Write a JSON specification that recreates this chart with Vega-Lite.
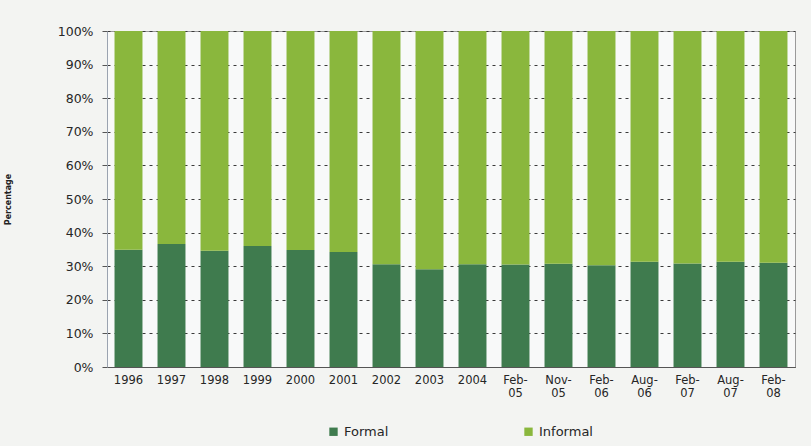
{
  "$schema": "https://vega.github.io/schema/vega-lite/v6.json",
  "autosize": {"type": "none"},
  "width": 688,
  "height": 336,
  "padding": {"left": 107, "top": 31, "right": 16, "bottom": 79},
  "background": "#f3f4f2",
  "data": {
    "values": [
      {"period": "1996", "sector": "Formal", "share": 34.9},
      {"period": "1996", "sector": "Informal", "share": 65.1},
      {"period": "1997", "sector": "Formal", "share": 36.6},
      {"period": "1997", "sector": "Informal", "share": 63.4},
      {"period": "1998", "sector": "Formal", "share": 34.6},
      {"period": "1998", "sector": "Informal", "share": 65.4},
      {"period": "1999", "sector": "Formal", "share": 36.0},
      {"period": "1999", "sector": "Informal", "share": 64.0},
      {"period": "2000", "sector": "Formal", "share": 34.8},
      {"period": "2000", "sector": "Informal", "share": 65.2},
      {"period": "2001", "sector": "Formal", "share": 34.2},
      {"period": "2001", "sector": "Informal", "share": 65.8},
      {"period": "2002", "sector": "Formal", "share": 30.6},
      {"period": "2002", "sector": "Informal", "share": 69.4},
      {"period": "2003", "sector": "Formal", "share": 29.1},
      {"period": "2003", "sector": "Informal", "share": 70.9},
      {"period": "2004", "sector": "Formal", "share": 30.6},
      {"period": "2004", "sector": "Informal", "share": 69.4},
      {"period": "Feb-05", "sector": "Formal", "share": 30.5},
      {"period": "Feb-05", "sector": "Informal", "share": 69.5},
      {"period": "Nov-05", "sector": "Formal", "share": 30.7},
      {"period": "Nov-05", "sector": "Informal", "share": 69.3},
      {"period": "Feb-06", "sector": "Formal", "share": 30.3},
      {"period": "Feb-06", "sector": "Informal", "share": 69.7},
      {"period": "Aug-06", "sector": "Formal", "share": 31.3},
      {"period": "Aug-06", "sector": "Informal", "share": 68.7},
      {"period": "Feb-07", "sector": "Formal", "share": 30.8},
      {"period": "Feb-07", "sector": "Informal", "share": 69.2},
      {"period": "Aug-07", "sector": "Formal", "share": 31.3},
      {"period": "Aug-07", "sector": "Informal", "share": 68.7},
      {"period": "Feb-08", "sector": "Formal", "share": 31.0},
      {"period": "Feb-08", "sector": "Informal", "share": 69.0}
    ]
  },
  "mark": {"type": "bar"},
  "encoding": {
    "x": {
      "field": "period",
      "type": "nominal",
      "sort": null,
      "scale": {"paddingInner": 0.35, "paddingOuter": 0.175},
      "axis": {
        "title": null,
        "labelAngle": 0,
        "labelExpr": "indexof(datum.value, '-') > 0 ? [slice(datum.value, 0, 4), slice(datum.value, 4)] : datum.value",
        "labelFont": "DejaVu Sans",
        "labelFontSize": 11.5,
        "labelColor": "#262626",
        "labelLineHeight": 13,
        "labelPadding": 7,
        "ticks": false,
        "domainColor": "#555555",
        "grid": false
      }
    },
    "y": {
      "field": "share",
      "type": "quantitative",
      "stack": "zero",
      "scale": {"domain": [0, 100]},
      "axis": {
        "title": "Percentage",
        "titleFont": "DejaVu Sans",
        "titleFontSize": 8,
        "titleFontWeight": "bold",
        "titleColor": "#222222",
        "titleX": -95,
        "titlePadding": 0,
        "values": [0, 10, 20, 30, 40, 50, 60, 70, 80, 90, 100],
        "labelExpr": "datum.value + '%'",
        "labelFont": "DejaVu Sans",
        "labelFontSize": 12.5,
        "labelColor": "#262626",
        "labelPadding": 9,
        "tickSize": 5,
        "tickColor": "#555555",
        "domainColor": "#9aa3b0",
        "grid": true,
        "gridColor": "#3a3a3a",
        "gridDash": [3, 4],
        "gridWidth": 1
      }
    },
    "color": {
      "field": "sector",
      "type": "nominal",
      "scale": {"domain": ["Formal", "Informal"], "range": ["#3f7b4e", "#8ab73d"]},
      "legend": {
        "title": null,
        "orient": "none",
        "direction": "horizontal",
        "legendX": 220,
        "legendY": 394,
        "padding": 0,
        "symbolType": "square",
        "symbolSize": 70,
        "symbolStrokeWidth": 0,
        "labelFont": "DejaVu Sans",
        "labelFontSize": 13,
        "labelColor": "#262626",
        "labelOffset": 4,
        "columnPadding": 133
      }
    },
    "order": {"field": "sector", "sort": "ascending"}
  },
  "config": {
    "view": {"stroke": "#9a9a9a", "strokeWidth": 1, "fill": "#f8f9f9"},
    "axis": {"gridOpacity": 1}
  }
}
